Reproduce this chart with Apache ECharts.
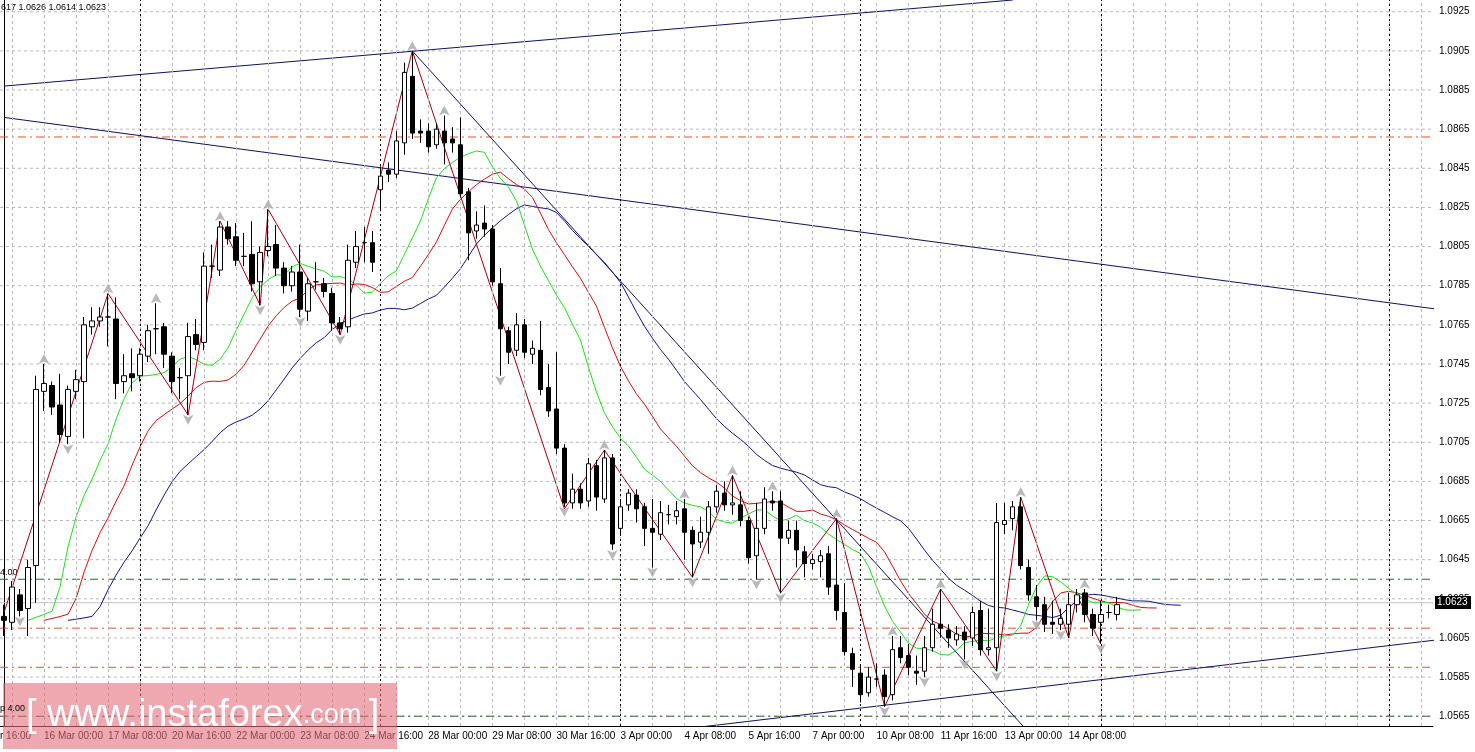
<!DOCTYPE html>
<html><head><meta charset="utf-8">
<script src="https://cdn.jsdelivr.net/npm/echarts@6/dist/echarts.min.js"></script>
<style>html,body{margin:0;padding:0;background:#fff}#c{width:1475px;height:752px}</style>
</head><body><div id="c"></div>
<script>
// candles [open, close, low, high]
const candles = [
[1.0616,1.0614,1.0606,1.0622],[1.0613,1.0631,1.0609,1.0634],[1.0627,1.0619,1.0616,1.0630],[1.0620,1.0641,1.0606,1.0645],
[1.0642,1.0732,1.0623,1.0739],[1.0731,1.0735,1.0721,1.0745],[1.0734,1.0723,1.0719,1.0736],[1.0724,1.0709,1.0705,1.0740],
[1.0708,1.0732,1.0704,1.0734],[1.0731,1.0737,1.0727,1.0742],[1.0736,1.0765,1.0707,1.0769],[1.0764,1.0767,1.0760,1.0774],
[1.0767,1.0769,1.0764,1.0774],[1.0769,1.0769,1.0754,1.0781],[1.0768,1.0735,1.0727,1.0779],[1.0736,1.0739,1.0730,1.0750],
[1.0740,1.0738,1.0731,1.0753],[1.0739,1.0750,1.0736,1.0753],[1.0749,1.0762,1.0746,1.0765],[1.0763,1.0763,1.0750,1.0776],
[1.0764,1.0750,1.0743,1.0766],[1.0749,1.0736,1.0730,1.0751],[1.0738,1.0738,1.0727,1.0743],[1.0739,1.0759,1.0719,1.0766],
[1.0760,1.0755,1.0752,1.0768],[1.0756,1.0795,1.0752,1.0802],[1.0795,1.0795,1.0789,1.0806],[1.0793,1.0815,1.0790,1.0818],
[1.0815,1.0809,1.0806,1.0818],[1.0810,1.0798,1.0795,1.0817],[1.0800,1.0800,1.0795,1.0812],[1.0801,1.0786,1.0782,1.0818],
[1.0787,1.0802,1.0775,1.0805],[1.0803,1.0805,1.0800,1.0824],[1.0806,1.0794,1.0790,1.0816],[1.0794,1.0785,1.0781,1.0797],
[1.0785,1.0792,1.0782,1.0795],[1.0792,1.0773,1.0769,1.0806],[1.0772,1.0786,1.0767,1.0789],[1.0787,1.0787,1.0783,1.0797],
[1.0786,1.0782,1.0779,1.0789],[1.0781,1.0766,1.0762,1.0784],[1.0766,1.0763,1.0760,1.0769],[1.0764,1.0798,1.0761,1.0806],
[1.0797,1.0805,1.0794,1.0813],[1.0807,1.0807,1.0797,1.0815],[1.0807,1.0797,1.0792,1.0813],[1.0834,1.0841,1.0823,1.0846],
[1.0844,1.0842,1.0838,1.0848],[1.0842,1.0859,1.0840,1.0864],[1.0858,1.0894,1.0852,1.0899],[1.0892,1.0863,1.0860,1.0905],
[1.0864,1.0863,1.0858,1.0870],[1.0864,1.0856,1.0853,1.0868],[1.0857,1.0865,1.0855,1.0868],[1.0864,1.0858,1.0847,1.0872],
[1.0860,1.0858,1.0853,1.0866],[1.0857,1.0832,1.0830,1.0871],[1.0833,1.0812,1.0798,1.0835],[1.0813,1.0816,1.0809,1.0823],
[1.0817,1.0814,1.0810,1.0826],[1.0814,1.0787,1.0785,1.0816],[1.0786,1.0763,1.0739,1.0794],[1.0762,1.0751,1.0745,1.0764],
[1.0752,1.0765,1.0749,1.0771],[1.0765,1.0751,1.0748,1.0768],[1.0750,1.0753,1.0745,1.0757],[1.0752,1.0732,1.0729,1.0767],
[1.0733,1.0721,1.0718,1.0745],[1.0722,1.0702,1.0699,1.0751],[1.0702,1.0674,1.0672,1.0704],[1.0674,1.0681,1.0671,1.0689],
[1.0681,1.0674,1.0671,1.0684],[1.0675,1.0694,1.0672,1.0697],[1.0693,1.0677,1.0670,1.0696],[1.0676,1.0697,1.0674,1.0701],
[1.0697,1.0653,1.0650,1.0699],[1.0661,1.0672,1.0658,1.0676],[1.0673,1.0679,1.0670,1.0681],[1.0678,1.0671,1.0664,1.0681],
[1.0672,1.0661,1.0652,1.0674],[1.0661,1.0659,1.0641,1.0676],[1.0658,1.0669,1.0655,1.0675],[1.0668,1.0668,1.0663,1.0673],
[1.0667,1.0670,1.0663,1.0675],[1.0671,1.0659,1.0645,1.0676],[1.0660,1.0653,1.0636,1.0662],[1.0654,1.0659,1.0651,1.0667],
[1.0659,1.0672,1.0648,1.0675],[1.0672,1.0680,1.0669,1.0683],[1.0679,1.0673,1.0670,1.0685],[1.0673,1.0674,1.0668,1.0688],
[1.0673,1.0665,1.0662,1.0680],[1.0665,1.0646,1.0643,1.0667],[1.0647,1.0661,1.0635,1.0674],[1.0661,1.0676,1.0658,1.0682],
[1.0675,1.0674,1.0670,1.0680],[1.0675,1.0656,1.0628,1.0680],[1.0656,1.0660,1.0653,1.0665],[1.0660,1.0650,1.0641,1.0665],
[1.0649,1.0643,1.0636,1.0652],[1.0643,1.0645,1.0640,1.0648],[1.0644,1.0647,1.0636,1.0650],[1.0648,1.0631,1.0627,1.0652],
[1.0632,1.0619,1.0614,1.0666],[1.0618,1.0598,1.0596,1.0633],[1.0597,1.0589,1.0580,1.0600],[1.0587,1.0576,1.0572,1.0591],
[1.0577,1.0585,1.0575,1.0590],[1.0584,1.0584,1.0580,1.0592],[1.0586,1.0575,1.0570,1.0589],[1.0576,1.0599,1.0573,1.0606],
[1.0600,1.0595,1.0592,1.0606],[1.0596,1.0590,1.0586,1.0602],[1.0588,1.0587,1.0581,1.0596],[1.0588,1.0600,1.0585,1.0606],
[1.0600,1.0612,1.0598,1.0620],[1.0612,1.0610,1.0605,1.0630],[1.0609,1.0605,1.0600,1.0612],[1.0604,1.0607,1.0601,1.0611],
[1.0608,1.0604,1.0594,1.0611],[1.0605,1.0618,1.0601,1.0621],[1.0619,1.0599,1.0596,1.0624],[1.0599,1.0600,1.0596,1.0620],
[1.0600,1.0664,1.0588,1.0674],[1.0663,1.0665,1.0658,1.0674],[1.0666,1.0672,1.0660,1.0675],[1.0672,1.0642,1.0640,1.0677],
[1.0641,1.0627,1.0624,1.0645],[1.0626,1.0621,1.0614,1.0632],[1.0622,1.0612,1.0608,1.0626],[1.0613,1.0612,1.0607,1.0624],
[1.0612,1.0615,1.0609,1.0620],[1.0612,1.0622,1.0605,1.0628],[1.0622,1.0627,1.0618,1.0630],[1.0628,1.0617,1.0613,1.0630],
[1.0617,1.0610,1.0606,1.0620],[1.0613,1.0617,1.0602,1.0624],[1.0618,1.0618,1.0615,1.0622],[1.0617,1.0622,1.0614,1.0626]
];
const timeLabels = {5:'16 Mar 00:00',13:'17 Mar 08:00',21:'20 Mar 16:00',29:'22 Mar 00:00',37:'23 Mar 08:00',45:'24 Mar 16:00',
 53:'28 Mar 00:00',61:'29 Mar 08:00',69:'30 Mar 16:00',77:'3 Apr 00:00',85:'4 Apr 08:00',93:'5 Apr 16:00',101:'7 Apr 00:00',
 109:'10 Apr 08:00',117:'11 Apr 16:00',125:'13 Apr 00:00',133:'14 Apr 08:00'};
const zigzag = [[0,1.0618],[13,1.0781],[23,1.0719],[27,1.0818],[32,1.0775],[33,1.0824],[42,1.0760],[51,1.0905],[70,1.0671],
 [75,1.0701],[86,1.0636],[91,1.0688],[97,1.0628],[104,1.0666],[110,1.0570],[117,1.0630],[124,1.0588],[127,1.0677],
 [133,1.0605],[134,1.0627],[137,1.0602]];
const fractalUp = [5,13,19,27,33,51,55,75,85,91,96,104,111,117,127,135];
const fractalDown = [2,8,23,32,37,42,62,70,76,81,86,94,97,110,115,120,124,129,132,137];
const levelsRed = [1.0861,1.0610,1.0590];
const levelsGreen = [1.0635,1.0565];
const currentPrice = 1.0623;
const weekSeparators = [17,47,77,107,137,173];
const trendLines = [
 [[0,1.0887],[126,1.0931]],
 [[0,1.0871],[179,1.0773]],
 [[51,1.0905],[127.5,1.0559]],
 [[86,1.0559],[179,1.0604]]
];
const N = 179;

const cats = Array.from({length:N},(_,i)=>String(i));
function median(i){return (candles[i][2]+candles[i][3])/2;}
function smma(n){const out=[];let v=median(0);for(let i=0;i<candles.length;i++){v=i===0?v:(v*(n-1)+median(i))/n;out.push(v);}return out;}
const jaw=smma(13).map((v,i)=>[i+8,v]);
const teeth=smma(8).map((v,i)=>[i+5,v]);
const lips=smma(5).map((v,i)=>[i+3,v]);

const yTicks=[];for(let k=0;k<19;k++)yTicks.push(+(1.0565+k*0.002).toFixed(4));
const vGrid=[];for(let v=1;v<N;v+=4)vGrid.push(v);

function hline(v,color,type,z){return {type:'line',xAxisIndex:1,data:[[-0.5,v],[N-0.5,v]],symbol:'none',silent:true,
 lineStyle:{color:color,type:type,width:1},z:z||1};}

const series=[
 {type:'line',xAxisIndex:1,data:[[-5,1.07]],symbol:'none',silent:true,
  markLine:{silent:true,symbol:'none',label:{show:false},animation:false,
   data:[].concat(
    vGrid.map(v=>({xAxis:v,lineStyle:{color:'#b8b8b8',type:[3,3],width:1}})),
    weekSeparators.map(v=>({xAxis:v,lineStyle:{color:'#000',type:[2,3],width:1}})))},z:1},
 ...yTicks.map(v=>hline(v,'#b8b8b8',[3,3],1)),
 ...levelsRed.map(v=>hline(v,'#d8582a',[8,4,2,4],2)),
 ...levelsGreen.map(v=>hline(v,'#2a6a2a',[8,4,2,4],2)),
 hline(currentPrice,'#c0c0c0','solid',2),
 ...trendLines.map(t=>({type:'line',xAxisIndex:1,data:t,symbol:'none',lineStyle:{color:'#101060',width:1},z:3})),
 {type:'line',xAxisIndex:1,data:jaw,symbol:'none',lineStyle:{color:'#14148a',width:1},z:3},
 {type:'line',xAxisIndex:1,data:teeth,symbol:'none',lineStyle:{color:'#d01010',width:1},z:3},
 {type:'line',xAxisIndex:1,data:lips,symbol:'none',lineStyle:{color:'#22dd22',width:1},z:3},
 {type:'line',xAxisIndex:1,data:zigzag,symbol:'none',lineStyle:{color:'#a00010',width:1},z:4},
 {type:'scatter',xAxisIndex:1,data:fractalUp.map(i=>[i,candles[i][3]]),symbol:'arrow',symbolSize:[8,10],symbolOffset:[0,-10],
  itemStyle:{color:'#a8a8a8'},z:5},
 {type:'scatter',xAxisIndex:1,data:fractalDown.map(i=>[i,candles[i][2]]),symbol:'arrow',symbolRotate:180,symbolSize:[8,10],symbolOffset:[0,10],
  itemStyle:{color:'#a8a8a8'},z:5},
 {type:'candlestick',data:candles,barWidth:5,itemStyle:{color:'#fff',color0:'#000',borderColor:'#000',borderColor0:'#000',borderWidth:1},z:6}
];

const F='Liberation Sans';
const chart=echarts.init(document.getElementById('c'));
chart.setOption({
 animation:false,backgroundColor:'#fff',
 textStyle:{fontFamily:F},
 grid:{left:-4,right:42,top:0,bottom:26},
 xAxis:[
  {type:'category',data:cats,boundaryGap:true,axisLine:{lineStyle:{color:'#000'}},axisTick:{show:false},
   axisLabel:{interval:0,formatter:(v,i)=>timeLabels[i]||'',align:'left',color:'#000',fontSize:10,fontFamily:F,margin:5},splitLine:{show:false}},
  {type:'value',min:-0.5,max:N-0.5,show:false,splitLine:{show:false}}
 ],
 yAxis:{type:'value',position:'right',min:1.0560,max:1.0931,interval:0.0005,scale:true,
  axisLine:{show:true,lineStyle:{color:'#000'}},axisTick:{show:false},splitLine:{show:false},
  axisLabel:{color:'#000',fontSize:10,fontFamily:F,margin:6,formatter:v=>{const p=Math.round(v*10000);return (p%20===5)?v.toFixed(4):'';}}},
 series:series,
 graphic:[
  {type:'text',left:1,top:3,style:{text:'617 1.0626 1.0614 1.0623',fontSize:9,fill:'#000',fontFamily:F}},
  {type:'text',left:0,top:568,style:{text:'4.00',fontSize:9,fill:'#000',fontFamily:F}},
  {type:'text',left:0,top:731,style:{text:'r 16:00',fontSize:10,fill:'#000',fontFamily:F}},
  {type:'rect',shape:{x:3,y:683,width:394,height:66},style:{fill:'rgba(228,110,122,0.6)'},z:100},
  {type:'text',left:0,top:704,style:{text:'p 4.00',fontSize:9,fill:'#000',fontFamily:F},z:101},
  {type:'text',left:26,top:697,z:102,style:{rich:{a:{fontSize:38,fill:'#fff',fontFamily:F},b:{fontSize:27,fill:'#fff',fontFamily:F}},
   text:'{a|[ www.instaforex}{b|.com }{a|]}'}},
  {type:'rect',shape:{x:1435,y:596,width:36,height:13},style:{fill:'#000'},z:100},
  {type:'text',left:1437,top:597,style:{text:'1.0623',fontSize:10,fill:'#fff',fontFamily:F},z:101}
 ]
});
</script></body></html>
